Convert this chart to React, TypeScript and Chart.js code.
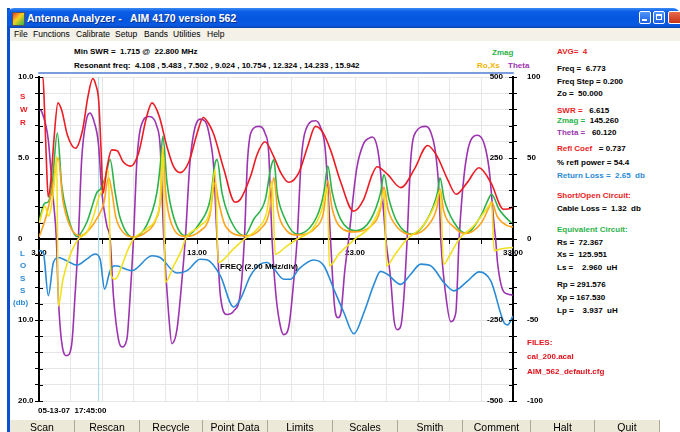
import { useEffect, useRef } from "react";
import { Chart, registerables } from "chart.js";
Chart.register(...registerables);

// ---- data (frequency MHz, value) ----
const swrData: [number, number][] = [
  [3.0,10],[3.25,10],[3.35,8.0],[3.48,4.5],[3.58,2.6],[3.75,3.6],[3.95,6.2],[4.2,8.4],[4.45,7.9],[4.8,6.4],[5.3,5.6],[5.75,6.7],[6.1,8.8],[6.4,9.9],[6.6,9.5],[6.78,8.5],[6.95,5.0],[7.05,2.8],[7.3,4.4],[7.6,5.5],[7.95,5.45],[8.3,4.8],[8.8,4.5],[9.3,5.3],[9.8,7.5],[10.15,8.4],[10.6,7.6],[11.1,5.7],[11.5,4.5],[11.95,4.1],[12.5,4.8],[13.0,6.5],[13.4,7.5],[13.75,7.1],[14.05,6.5],[14.7,4.3],[15.4,2.27],[15.75,2.45],[16.4,3.9],[16.8,5.2],[17.3,6.0],[17.85,5.1],[18.3,4.1],[18.8,3.5],[19.45,4.1],[20.0,5.7],[20.5,6.95],[20.95,6.6],[21.45,5.5],[22.1,3.5],[22.9,1.72],[23.55,2.45],[24.1,4.0],[24.4,4.46],[25.05,4.0],[25.9,3.17],[26.75,4.3],[27.6,5.77],[28.2,5.1],[28.85,3.7],[29.4,2.76],[30.1,3.48],[30.85,4.4],[31.6,3.48],[32.4,1.84],[32.7,1.85],[33.0,2.0]
];
const lossData: [number, number][] = [
  [3.0,1.45],[3.27,1.65],[3.59,7.0],[3.91,2.9],[4.22,2.28],[4.76,2.7],[5.39,3.23],[6.02,2.48],[6.55,1.86],[6.87,2.5],[7.15,6.2],[7.5,3.9],[7.82,3.3],[8.88,3.9],[10.15,2.07],[10.67,2.28],[11.73,4.2],[12.37,3.9],[13.2,2.5],[13.63,2.57],[14.48,4.55],[15.32,8.4],[15.75,7.4],[16.38,4.55],[17.01,3.1],[17.44,2.9],[17.86,3.64],[18.49,4.97],[18.92,4.97],[19.44,3.73],[20.39,2.6],[21.03,3.3],[21.66,6.2],[22.3,9.1],[22.93,11.7],[23.56,9.1],[24.2,5.6],[24.62,4.0],[25.05,4.35],[25.89,5.6],[26.53,4.35],[27.16,3.1],[27.79,3.3],[28.64,5.4],[29.27,6.4],[30.12,5.2],[30.86,4.06],[31.6,5.2],[32.44,10.35],[32.66,10.6],[33.0,9.5]
];
const thetaData: [number, number][] = [
  [3.0,80],[3.15,79],[3.3,75],[3.45,69.5],[3.59,61],[3.7,49],[3.9,25],[4.1,0],[4.22,-35],[4.44,-64],[4.76,-72],[5.07,-65],[5.28,-35],[5.49,0],[5.7,49],[6.0,73.6],[6.23,77.7],[6.5,72],[6.76,59],[6.98,28.6],[7.3,8],[7.5,0],[7.71,-35],[8.03,-62],[8.24,-66.6],[8.56,-62],[8.77,-35],[8.98,0],[9.2,49],[9.61,73.6],[9.93,75.6],[10.46,69.5],[10.67,57],[10.9,0],[11.2,-45.5],[11.41,-64.6],[11.73,-56],[12.05,-25],[12.26,0],[12.57,49],[13.2,74],[13.53,72.5],[13.84,61],[14.05,45],[14.27,0],[14.48,-35],[14.9,-46.6],[15.32,-44.5],[15.75,-33],[16.0,0],[16.2,49],[16.6,68.5],[16.9,69.5],[17.3,65.4],[17.54,53],[17.75,0],[18.0,-35],[18.28,-54],[18.49,-59],[18.81,-54],[19.13,-25],[19.34,0],[19.6,49],[20.0,70],[20.5,73],[20.8,69.5],[21.1,57],[21.3,28.6],[21.45,0],[21.7,-41],[21.92,-48.6],[22.1,-46],[22.35,-20],[22.6,0],[23.1,43],[23.55,59],[23.9,62.3],[24.1,63],[24.4,57],[24.6,43],[24.8,18],[24.95,0],[25.26,-25],[25.47,-50],[25.68,-56],[25.89,-54],[26.1,-35],[26.3,0],[26.53,49],[26.84,66],[27.48,69.5],[27.79,66],[28.1,53],[28.32,28.6],[28.43,0],[28.75,-35],[29.06,-51],[29.38,-45.5],[29.59,0],[29.9,39],[30.33,61],[30.75,64],[31.17,59],[31.49,43],[31.81,8],[31.9,0],[32.02,-14.5],[32.33,-31],[32.66,-34],[33.0,-34.6]
];
const zmagData: [number, number][] = [
  [3.0,55],[3.35,110],[3.6,115],[3.85,180],[4.16,327],[4.44,163],[4.76,82],[5.4,8],[6.02,51],[6.66,143],[6.9,155],[7.2,190],[7.5,245],[7.82,143],[8.1,71],[8.98,5],[9.8,41],[10.46,143],[10.67,225],[10.84,317],[11.1,174],[11.5,71],[12.26,10],[13.2,51],[13.84,123],[14.15,235],[14.27,245],[14.58,143],[15.1,61],[16.0,10],[16.59,61],[17.33,123],[17.65,215],[17.86,245],[18.07,143],[18.49,71],[19.34,15],[20.6,71],[21.03,143],[21.28,225],[21.56,143],[22.09,61],[23.04,25],[24.0,61],[24.62,143],[24.83,199],[25.15,123],[25.68,51],[26.63,15],[27.58,61],[28.22,143],[28.38,189],[28.64,123],[29.27,51],[30.01,18],[30.96,71],[31.49,128],[31.64,138],[32.12,92],[32.87,51],[33.0,46]
];
const rsData: [number, number][] = [
  [3.0,6],[3.4,61],[3.8,143],[4.22,250],[4.5,123],[4.95,41],[5.6,10],[6.2,30],[6.77,72],[7.1,110],[7.4,190],[7.6,150],[7.85,70],[8.3,22],[9.0,6],[9.8,22],[10.4,60],[10.7,130],[10.84,280],[11.0,150],[11.4,45],[12.3,8],[13.2,25],[13.8,70],[14.15,175],[14.35,120],[14.8,40],[16.0,10],[17.0,30],[17.6,90],[17.86,190],[18.1,90],[18.6,30],[19.3,12],[20.5,35],[21.0,80],[21.28,180],[21.55,95],[22.1,35],[23.0,22],[24.0,40],[24.6,90],[24.83,160],[25.1,90],[25.7,35],[26.6,14],[27.6,40],[28.2,100],[28.38,155],[28.6,90],[29.3,35],[30.0,17],[31.0,50],[31.5,100],[31.64,115],[32.0,70],[32.6,42],[33.0,37]
];
const xsData: [number, number][] = [
  [3.0,46],[3.38,102],[3.59,71],[3.75,92],[3.95,163],[4.12,255],[4.22,-207],[4.52,-124],[4.95,-52],[5.49,0],[6.02,20],[6.45,70],[6.77,126],[7.08,160],[7.38,215],[7.55,-110],[7.82,-124],[8.24,-83],[8.56,-41],[8.98,0],[9.8,31],[10.46,71],[10.67,123],[10.84,286],[10.99,-134],[11.52,-83],[12.05,-31],[12.26,0],[13.2,41],[13.84,92],[14.15,215],[14.35,-72],[15.3,-31],[16.0,0],[16.8,30],[17.4,80],[17.75,180],[17.95,-47],[18.6,-25],[19.34,0],[20.3,30],[20.9,90],[21.25,160],[21.38,-83],[22.0,-45],[23.0,0],[24.0,40],[24.6,100],[24.85,150],[25.0,-83],[25.5,-50],[26.3,0],[27.3,40],[28.1,110],[28.4,150],[28.6,-78],[29.0,-50],[29.6,0],[30.5,40],[31.3,90],[31.65,110],[31.8,-36],[32.3,-30],[33.0,-26]
];
const cursorFreq = 6.773;
const leftTickLabels: Record<number, string> = { 10: "10.0", 5: "5.0", 0: "0", [-5]: "10.0", [-10]: "20.0" };
const thetaTickLabels = [100, 50, 0, -50, -100];
const zTickLabels = [500, 250, -250, -500];
const freqLabels = [3, 13, 23, 33];

const resonant = "Resonant freq:  4.108 , 5.483 , 7.502 , 9.024 , 10.754 , 12.324 , 14.233 , 15.942";
const menuItems = ["File", "Functions", "Calibrate", "Setup", "Bands", "Utilities", "Help"];
const buttons = ["Scan", "Rescan", "Recycle", "Point Data", "Limits", "Scales", "Smith", "Comment", "Halt", "Quit"];

const FONT = '"Liberation Sans", Arial, sans-serif';
const C = { red: "#ec1c24", green: "#2bb34a", orange: "#ffa31a", yellow: "#f2e01e", purple: "#9c34b0", blue: "#2a8ad6", cursor: "#9fd7ea" };

const xy = (a: [number, number][]) => a.map(([x, y]) => ({ x, y }));

const extras = {
  id: "extras",
  afterDraw(chart: any) {
    const ctx = chart.ctx;
    const { left, right } = chart.chartArea;
    const y = chart.scales.y, yt = chart.scales.yT, yz = chart.scales.yZ;
    ctx.save();
    ctx.strokeStyle = "#000";
    ctx.lineWidth = 1;
    y.ticks.forEach((t: any) => {
      const py = Math.round(y.getPixelForValue(t.value)) + 0.5;
      ctx.beginPath(); ctx.moveTo(left, py); ctx.lineTo(left + 4, py); ctx.stroke();
    });
    yt.ticks.forEach((t: any) => {
      const py = Math.round(yt.getPixelForValue(t.value)) + 0.5;
      ctx.beginPath(); ctx.moveTo(right - 4, py); ctx.lineTo(right, py); ctx.stroke();
    });
    ctx.fillStyle = "#000";
    ctx.font = "bold 8px " + FONT;
    ctx.textBaseline = "middle";
    ctx.textAlign = "right";
    zTickLabels.forEach((v) => ctx.fillText(String(v), right - 10, yz.getPixelForValue(v)));
    ctx.textAlign = "left";
    thetaTickLabels.forEach((v) => ctx.fillText(String(v), right + 14, yt.getPixelForValue(v)));
    ctx.restore();
  },
};

function Txt(p: { x: number; y: number; c?: string; s?: number; b?: boolean; children: any }) {
  const s = p.s ?? 8;
  return (
    <div style={{ position: "absolute", left: p.x, top: p.y - (s + 2) / 2, lineHeight: `${s + 2}px`, fontSize: s, fontWeight: p.b === false ? "normal" : "bold", color: p.c ?? "#000", whiteSpace: "pre", fontFamily: FONT }}>
      {p.children}
    </div>
  );
}

export default function App() {
  const ref = useRef<HTMLCanvasElement>(null);
  useEffect(() => {
    const tickFont = { family: FONT, size: 8, weight: "bold" as const };
    const ds = (label: string, data: [number, number][], color: string, axis: string, w = 1.6) => ({
      label, data: xy(data), borderColor: color, backgroundColor: color, yAxisID: axis, borderWidth: w, pointRadius: 0, cubicInterpolationMode: "monotone" as const, fill: false,
    });
    const chart = new Chart(ref.current!, {
      type: "line",
      data: {
        datasets: [
          ds("SWR", swrData, C.red, "y"),
          ds("Xs", xsData, C.yellow, "yZ"),
          ds("Rs", rsData, C.orange, "yZ"),
          ds("Zmag", zmagData, C.green, "yZ"),
          ds("Return Loss", lossData, C.blue, "yLoss"),
          ds("Theta", thetaData, C.purple, "yT"),
          ds("cursor", [[cursorFreq, -10], [cursorFreq, 10]], C.cursor, "y", 1),
        ] as any,
      },
      options: {
        animation: false,
        responsive: false,
        layout: { padding: { top: 15, bottom: 8, left: 0, right: 0 } },
        plugins: { legend: { display: false }, tooltip: { enabled: false } },
        scales: {
          x: {
            type: "linear", min: 3, max: 33, position: { y: 0 } as any,
            ticks: { stepSize: 2, autoSkip: false, maxRotation: 0, padding: 5, color: "#000", font: tickFont,
              callback: (v: any) => (freqLabels.includes(Number(v)) ? Number(v).toFixed(2) : "") },
            grid: { color: "#e6e6e6", tickLength: 4, tickColor: "#000" },
            border: { color: "#000", width: 2 },
            afterFit: (s: any) => { s.height = 0; },
          },
          y: {
            position: "left", min: -10, max: 10,
            ticks: { stepSize: 1, autoSkip: false, padding: 0, crossAlign: "far", color: "#000", font: tickFont,
              callback: (v: any) => leftTickLabels[Number(v)] ?? "" },
            grid: { color: "#e6e6e6", tickLength: 4, tickColor: "#000" },
            border: { color: "#000", width: 2 },
            afterFit: (s: any) => { s.width = 21; },
          },
          yT: {
            position: "right", min: -100, max: 100,
            ticks: { stepSize: 10, autoSkip: false, display: false },
            grid: { drawOnChartArea: false, tickLength: 4, tickColor: "#000" },
            border: { color: "#000", width: 2 },
            afterFit: (s: any) => { s.width = 35; },
          },
          yZ: { display: false, min: -500, max: 500 },
          yLoss: { display: false, min: -20, max: 20, reverse: true },
        } as any,
      },
      plugins: [extras],
    });
    return () => chart.destroy();
  }, []);

  const menuX = [14, 33, 76, 115, 144, 173, 207];

  return (
    <div style={{ position: "fixed", left: 0, top: 0, width: 680, height: 432, overflow: "hidden", background: "#fff", fontFamily: FONT }}>
      {/* window frame */}
      <div style={{ position: "absolute", left: 7, top: 8, width: 3, height: 424, background: "#0a50d0" }} />
      <div style={{ position: "absolute", left: 7, top: 8, width: 673, height: 20, borderRadius: "7px 7px 0 0", background: "linear-gradient(#3b8cf6 0%, #0c5ee6 18%, #0455e0 55%, #0a5be2 85%, #0842b4 100%)" }} />
      <div style={{ position: "absolute", left: 12, top: 12, width: 11, height: 12, background: "linear-gradient(135deg,#f03a2a 0%,#f6d11e 45%,#2cb24c 100%)", border: "1px solid #555" }} />
      <div style={{ position: "absolute", left: 27, top: 12, color: "#fff", fontSize: 10.5, fontWeight: "bold", lineHeight: "12px", whiteSpace: "pre", fontFamily: FONT, textShadow: "1px 1px 0 #0a2f8a" }}>{"Antenna Analyzer -   AIM 4170 version 562"}</div>
      {[639, 653].map((x, i) => (
        <div key={i} style={{ position: "absolute", left: x, top: 11, width: 12, height: 13, borderRadius: 2, border: "1px solid #fff", background: "linear-gradient(#4f95fb,#1d5fe0)", boxSizing: "border-box" }}>
          {i === 0 ? <div style={{ position: "absolute", left: 2, top: 7, width: 5, height: 2, background: "#fff" }} /> : <div style={{ position: "absolute", left: 2, top: 2, width: 6, height: 6, border: "1px solid #fff", borderTopWidth: 2, boxSizing: "border-box" }} />}
        </div>
      ))}
      <div style={{ position: "absolute", left: 668, top: 11, width: 14, height: 13, borderRadius: 2, border: "1px solid #fff", background: "linear-gradient(#e86a4a,#c8341a)", boxSizing: "border-box" }} />
      {/* menu */}
      <div style={{ position: "absolute", left: 10, top: 28, width: 670, height: 13, background: "#f3f1e8" }} />
      {menuItems.map((m, i) => (
        <Txt key={m} x={menuX[i]} y={34} s={8.5} b={false}>{m}</Txt>
      ))}

      {/* top info */}
      <Txt x={74} y={52}>{"Min SWR =  1.715 @  22.800 MHz"}</Txt>
      <Txt x={74} y={66}>{resonant}</Txt>
      <Txt x={492} y={53} c={C.green}>Zmag</Txt>
      <Txt x={477} y={66} c="#f5b400">Ro,Xs</Txt>
      <Txt x={508} y={66} c={C.purple}>Theta</Txt>
      <div style={{ position: "absolute", left: 38, top: 72, width: 476, height: 2, background: "#7c9ddb", borderRadius: 1 }} />

      <canvas ref={ref} width={530} height={347} style={{ position: "absolute", left: 18, top: 62, width: 530, height: 347 }} />

      {/* axis titles */}
      {["S", "W", "R"].map((ch, i) => (<Txt key={"s" + i} x={20} y={97 + i * 13} c={C.red}>{ch}</Txt>))}
      {["L", "O", "S", "S"].map((ch, i) => (<Txt key={"l" + i} x={20} y={254 + i * 12.4} c={C.blue}>{ch}</Txt>))}
      <Txt x={13} y={303} c={C.blue}>(db)</Txt>
      <Txt x={220} y={267}>{"FREQ (2.00 MHz/div)"}</Txt>
      <Txt x={38} y={411}>{"05-13-07  17:45:00"}</Txt>

      {/* right panel */}
      <Txt x={557} y={52} c={C.red}>{"AVG=  4"}</Txt>
      <Txt x={557} y={69}>{"Freq =  6.773"}</Txt>
      <Txt x={557} y={82}>{"Freq Step = 0.200"}</Txt>
      <Txt x={557} y={94}>{"Zo =  50.000"}</Txt>
      <Txt x={557} y={111}><span style={{ color: C.red }}>{"SWR =  "}</span>{" 6.615"}</Txt>
      <Txt x={557} y={121}><span style={{ color: C.green }}>{"Zmag = "}</span>{" 145.260"}</Txt>
      <Txt x={557} y={133}><span style={{ color: C.purple }}>{"Theta =  "}</span>{" 60.120"}</Txt>
      <Txt x={557} y={149}><span style={{ color: C.red }}>{"Refl Coef"}</span>{"   = 0.737"}</Txt>
      <Txt x={557} y={163}>{"% refl power = 54.4"}</Txt>
      <Txt x={557} y={176} c={C.blue}>{"Return Loss =  2.65  db"}</Txt>
      <Txt x={557} y={196} c={C.red}>{"Short/Open Circuit:"}</Txt>
      <Txt x={557} y={209}>{"Cable Loss =  1.32  db"}</Txt>
      <Txt x={557} y={230} c={C.green}>{"Equivalent Circuit:"}</Txt>
      <Txt x={557} y={243}>{"Rs =  72.367"}</Txt>
      <Txt x={557} y={255}>{"Xs =  125.951"}</Txt>
      <Txt x={557} y={268}>{"Ls =    2.960  uH"}</Txt>
      <Txt x={557} y={285}>{"Rp = 291.576"}</Txt>
      <Txt x={557} y={298}>{"Xp = 167.530"}</Txt>
      <Txt x={557} y={311}>{"Lp =    3.937  uH"}</Txt>
      <Txt x={527} y={343} c="#e0101a">FILES:</Txt>
      <Txt x={527} y={357} c="#e0101a">cal_200.acal</Txt>
      <Txt x={527} y={372} c="#e0101a">AIM_562_default.cfg</Txt>

      {/* buttons */}
      <div style={{ position: "absolute", left: 10, top: 419, width: 650, height: 13, background: "#ece9d8", borderTop: "1px solid #fff" }} />
      {buttons.map((b, i) => {
        const edges = [10, 75, 140, 203, 268, 333, 398, 463, 531, 595, 660];
        const l = edges[i], r = edges[i + 1];
        return (
          <div key={b} style={{ position: "absolute", left: l, top: 420, width: r - l, height: 12, borderRight: "1px solid #aca899", boxSizing: "border-box", textAlign: "center", fontSize: 10.5, lineHeight: "14px", color: "#000", fontFamily: FONT, whiteSpace: "pre" }}>{b}</div>
        );
      })}
    </div>
  );
}
